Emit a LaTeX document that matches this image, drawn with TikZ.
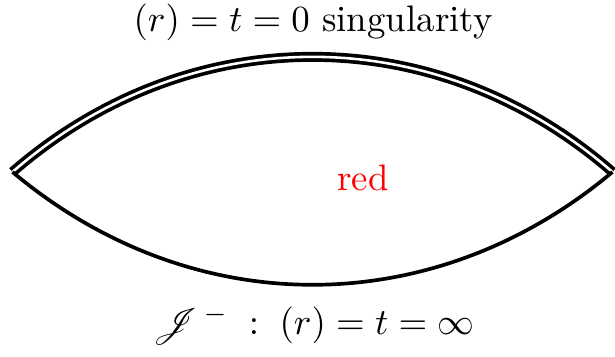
\documentclass[tikz,border=0pt]{standalone}
\usepackage{amsmath,amssymb,mathrsfs}
\usepackage{tikz}
\usepackage{xcolor}
\begin{document}
\begin{tikzpicture}[line width=1pt]
  \useasboundingbox (-2.98,-1.755) rectangle (2.885,1.640);
  \coordinate (L) at (-2.861,0); \coordinate (R) at (2.861,0);
  \draw[double,double distance=0.7pt] (L) to[bend left=41] (R);
  \draw (L) to[bend right=40] (R);
  \node (top) at (0.005,1.43) {$(r) = t = 0$ singularity};
  \node (bot) at (0.01,-1.458) {$\mathscr{J}^{\,-}\;:\;(r) = t = \infty$};
  \node[red] (lab) at (0.481,-0.055) {red};
\end{tikzpicture}
\end{document}
